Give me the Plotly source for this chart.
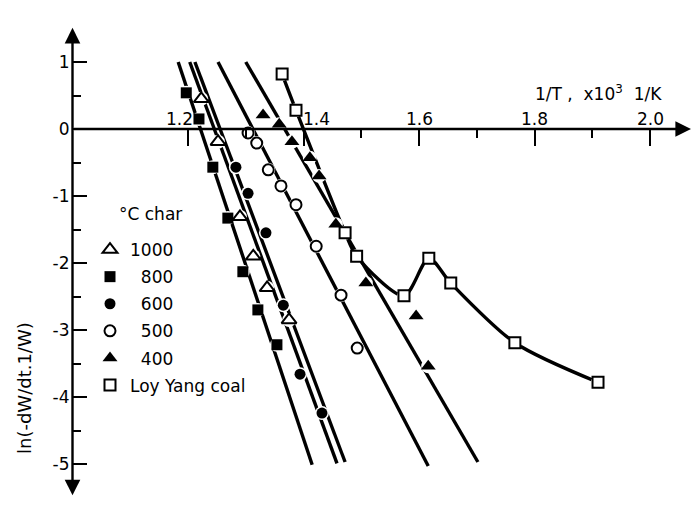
import plotly.graph_objects as go

# Reaction-rate data: ln(-dW/dt . 1/W) against reciprocal temperature (1/T, x10^3 1/K)
# Char samples prepared at different temperatures (deg C) and the parent Loy Yang coal
x_1000 = [1.223, 1.252, 1.290, 1.313, 1.337, 1.375]
y_1000 = [0.45, -0.19, -1.31, -1.90, -2.37, -2.85]

x_800 = [1.197, 1.219, 1.243, 1.269, 1.295, 1.321, 1.354]
y_800 = [0.54, 0.15, -0.57, -1.33, -2.13, -2.70, -3.22]

x_600 = [1.283, 1.304, 1.335, 1.365, 1.394, 1.432]
y_600 = [-0.57, -0.96, -1.55, -2.63, -3.66, -4.24]

x_500 = [1.304, 1.319, 1.339, 1.361, 1.387, 1.422, 1.465, 1.493]
y_500 = [-0.06, -0.21, -0.61, -0.85, -1.13, -1.75, -2.48, -3.27]

x_400 = [1.330, 1.358, 1.380, 1.411, 1.427, 1.456, 1.508, 1.595, 1.616]
y_400 = [0.21, 0.07, -0.19, -0.43, -0.70, -1.42, -2.30, -2.79, -3.54]

x_coal = [1.363, 1.387, 1.472, 1.492, 1.574, 1.617, 1.655, 1.766, 1.910]
y_coal = [0.82, 0.28, -1.55, -1.90, -2.49, -1.93, -2.30, -3.19, -3.78]

# Straight Arrhenius lines drawn for each char (end points)
fit_1000 = ([1.203, 1.458], [1.0, -4.99])
fit_800 = ([1.183, 1.415], [1.0, -5.01])
fit_600 = ([1.212, 1.472], [1.0, -4.97])
fit_500 = ([1.252, 1.616], [1.0, -5.03])
fit_400 = ([1.300, 1.702], [1.0, -4.97])

legend_labels = ["1000", "\u2007800", "\u2007600", "\u2007500", "\u2007400", "Loy Yang coal"]

x_major = [1.2, 1.4, 1.6, 1.8, 2.0]
x_major_text = ["1.2", "1.4", "1.6", "1.8", "2.0"]
x_minor = [1.3, 1.5, 1.7, 1.9]
y_major = [1, 0, -1, -2, -3, -4, -5]
y_major_text = ["1", "0", "-1", "-2", "-3", "-4", "-5"]
y_minor = [0.5, -0.5, -1.5, -2.5, -3.5, -4.5]

FONT = "DejaVu Sans"
W, H = 691, 507
# axis ranges chosen so that the origin of the drawn axes sits at (1.0, 0)
X0, X1 = 0.87446, 2.0710
Y0, Y1 = -5.6418, 1.9254

series = [
    (x_1000, y_1000, fit_1000, "triangle-up-open", legend_labels[0]),
    (x_800, y_800, fit_800, "square", legend_labels[1]),
    (x_600, y_600, fit_600, "circle", legend_labels[2]),
    (x_500, y_500, fit_500, "circle-open", legend_labels[3]),
    (x_400, y_400, fit_400, "triangle-up", legend_labels[4]),
]
coal = (x_coal, y_coal, None, "square-open", legend_labels[5])

fig = go.Figure()

# fitted straight lines
for xs, ys, fit, sym, name in series:
    fig.add_trace(go.Scatter(x=fit[0], y=fit[1], mode="lines",
                             line=dict(color="black", width=3.4),
                             showlegend=False, hoverinfo="skip"))

# Loy Yang coal: smooth curve through the points
fig.add_trace(go.Scatter(x=x_coal, y=y_coal, mode="lines",
                         line=dict(color="black", width=3.4, shape="spline", smoothing=0.8),
                         showlegend=False, hoverinfo="skip"))

# white halos that break the lines around each point
for xs, ys, fit, sym, name in series + [coal]:
    fig.add_trace(go.Scatter(x=xs, y=ys, mode="markers",
                             marker=dict(symbol="circle", size=14, color="white",
                                         line=dict(width=0)),
                             showlegend=False, hoverinfo="skip"))

for i, (xs, ys, fit, sym, name) in enumerate(series + [coal]):
    is_open = sym.endswith("open")
    size = 13 if "triangle" in sym else 11
    fig.add_trace(go.Scatter(
        x=xs, y=ys, mode="markers", name=name, legendgroup=f"g{i}",
        marker=dict(symbol=sym, size=size, color="black",
                    line=dict(color="black", width=2 if is_open else 0)),
    ))

# axis lines with arrowheads, crossing at (1.0, 0)
fig.add_annotation(x=2.071, y=0, ax=1.0, ay=0, xref="x", yref="y", axref="x", ayref="y",
                   showarrow=True, arrowhead=2, arrowsize=1.3, arrowwidth=2.4,
                   arrowcolor="black", text="")
fig.add_annotation(x=1.0, y=1.51, ax=1.0, ay=-5.49, xref="x", yref="y", axref="x", ayref="y",
                   showarrow=True, arrowhead=2, arrowsize=1.3, arrowwidth=2.4,
                   arrowside="end+start", arrowcolor="black", text="")

# x tick labels above the axis (1.2 and 1.4 nudged clear of the lines)
shifts = {"1.2": -9, "1.4": 13}
for v, t in zip(x_major, x_major_text):
    fig.add_annotation(x=v, y=0, xref="x", yref="y", text=t, showarrow=False,
                       xshift=shifts.get(t, 0), yshift=10,
                       font=dict(family=FONT, size=17, color="black"))

fig.add_annotation(x=1.91, y=0.537, xref="x", yref="y",
                   text="1/T ,  x10<sup>3</sup>  1/K", showarrow=False,
                   font=dict(family=FONT, size=17, color="black"))
fig.add_annotation(x=24 / W, y=1 - 388 / H, xref="paper", yref="paper",
                   text="ln(-dW/dt.1/W)", textangle=-90, showarrow=False,
                   xanchor="center", yanchor="middle",
                   font=dict(family=FONT, size=18, color="black"))
fig.add_annotation(x=117 / W, y=1 - 214 / H, xref="paper", yref="paper",
                   text="\u00b0C char", showarrow=False, xanchor="left",
                   font=dict(family=FONT, size=17, color="black"))

fig.update_layout(
    width=W, height=H,
    margin=dict(l=0, r=0, t=0, b=0),
    paper_bgcolor="white", plot_bgcolor="white",
    font=dict(family=FONT, size=17, color="black"),
    showlegend=True,
    legend=dict(x=90 / W, y=1 - 232 / H, xanchor="left", yanchor="top",
                bgcolor="rgba(0,0,0,0)", tracegroupgap=2,
                font=dict(family=FONT, size=17, color="black")),
    xaxis=dict(range=[X0, X1], showgrid=False, zeroline=False, showline=False,
               side="top", anchor="free", position=(0 - Y0) / (Y1 - Y0),
               tickvals=x_major, showticklabels=False,
               ticks="inside", ticklen=16, tickwidth=2, tickcolor="black",
               minor=dict(tickvals=x_minor, ticks="inside", ticklen=8,
                          tickwidth=2, tickcolor="black")),
    yaxis=dict(range=[Y0, Y1], showgrid=False, zeroline=False, showline=False,
               side="left", anchor="free", position=(1.0 - X0) / (X1 - X0),
               tickvals=y_major, ticktext=y_major_text,
               ticks="inside", ticklen=14, tickwidth=2, tickcolor="black",
               ticklabelstandoff=3,
               tickfont=dict(family=FONT, size=17, color="black"),
               minor=dict(tickvals=y_minor, ticks="inside", ticklen=8,
                          tickwidth=2, tickcolor="black")),
)

fig.write_html("out.html")
